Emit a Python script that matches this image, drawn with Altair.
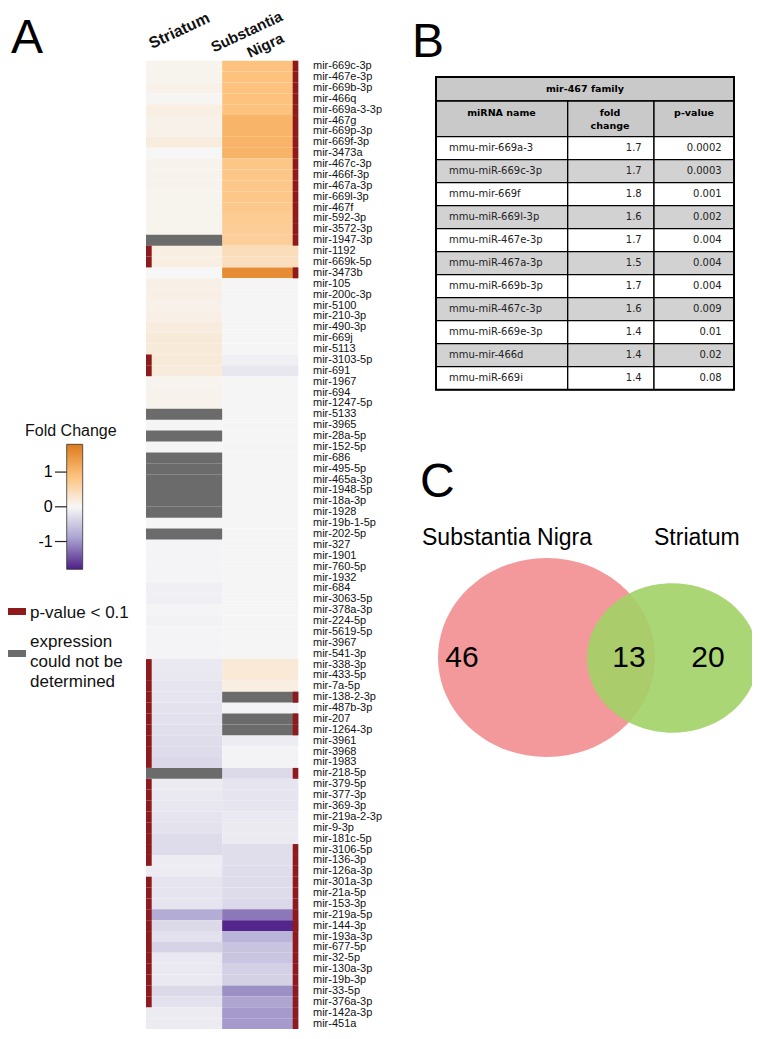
import altair as alt
import pandas as pd

# ---------------- data ----------------
mirnas = ["mir-669c-3p", "mir-467e-3p", "mir-669b-3p", "mir-466q", "mir-669a-3-3p", "mir-467g",
          "mir-669p-3p", "mir-669f-3p", "mir-3473a", "mir-467c-3p", "mir-466f-3p", "mir-467a-3p",
          "mir-669l-3p", "mir-467f", "mir-592-3p", "mir-3572-3p", "mir-1947-3p", "mir-1192",
          "mir-669k-5p", "mir-3473b", "mir-105", "mir-200c-3p", "mir-5100", "mir-210-3p",
          "mir-490-3p", "mir-669j", "mir-5113", "mir-3103-5p", "mir-691", "mir-1967", "mir-694",
          "mir-1247-5p", "mir-5133", "mir-3965", "mir-28a-5p", "mir-152-5p", "mir-686",
          "mir-495-5p", "mir-465a-3p", "mir-1948-5p", "mir-18a-3p", "mir-1928", "mir-19b-1-5p",
          "mir-202-5p", "mir-327", "mir-1901", "mir-760-5p", "mir-1932", "mir-684", "mir-3063-5p",
          "mir-378a-3p", "mir-224-5p", "mir-5619-5p", "mir-3967", "mir-541-3p", "mir-338-3p",
          "mir-433-5p", "mir-7a-5p", "mir-138-2-3p", "mir-487b-3p", "mir-207", "mir-1264-3p",
          "mir-3961", "mir-3968", "mir-1983", "mir-218-5p", "mir-379-5p", "mir-377-3p",
          "mir-369-3p", "mir-219a-2-3p", "mir-9-3p", "mir-181c-5p", "mir-3106-5p", "mir-136-3p",
          "mir-126a-3p", "mir-301a-3p", "mir-21a-5p", "mir-153-3p", "mir-219a-5p", "mir-144-3p",
          "mir-193a-3p", "mir-677-5p", "mir-32-5p", "mir-130a-3p", "mir-19b-3p", "mir-33-5p",
          "mir-376a-3p", "mir-142a-3p", "mir-451a"]

# None = expression could not be determined
striatum_fc = [0.07, 0.07, 0.10, 0.03, 0.15, 0.10, 0.10, 0.18, 0.01, 0.08,
               0.08, 0.08, 0.07, 0.07, 0.07, 0.07, None, 0.15, 0.15, 0.00,
               0.12, 0.12, 0.10, 0.12, 0.18, 0.22, 0.22, 0.22, 0.20, 0.05,
               0.08, 0.08, None, -0.02, None, -0.02, None, None, None, None,
               None, None, -0.02, None, -0.03, -0.03, -0.03, -0.03, -0.08, -0.08,
               -0.04, -0.06, -0.03, -0.03, -0.03, -0.15, -0.17, -0.20, -0.20, -0.22,
               -0.24, -0.26, -0.28, -0.30, -0.33, None, -0.13, -0.15, -0.18, -0.20,
               -0.22, -0.30, -0.30, -0.12, -0.12, -0.20, -0.20, -0.20, -0.80, -0.32,
               -0.24, -0.39, -0.15, -0.15, -0.15, -0.32, -0.24, -0.13, -0.13]

nigra_fc = [0.87, 0.87, 0.87, 0.87, 0.87, 1.05, 1.05, 1.08, 1.08, 0.81,
            0.81, 0.80, 0.80, 0.78, 0.72, 0.70, 0.68, 0.44, 0.42, 1.57,
            -0.02, -0.02, -0.02, -0.02, -0.02, -0.02, -0.02, -0.08, -0.18, -0.02,
            -0.02, -0.02, -0.02, -0.02, -0.02, -0.02, -0.02, -0.02, -0.02, -0.02,
            -0.02, -0.02, -0.02, -0.02, -0.02, -0.02, -0.02, -0.02, -0.02, -0.02,
            -0.02, -0.02, -0.02, -0.02, -0.02, 0.24, 0.24, 0.15, None, -0.03,
            None, None, -0.12, -0.05, -0.05, -0.32, -0.20, -0.20, -0.20, -0.15,
            -0.14, -0.14, -0.27, -0.27, -0.28, -0.30, -0.30, -0.33, -1.20, -1.75,
            -0.72, -0.56, -0.54, -0.43, -0.41, -1.03, -0.87, -0.96, -0.96]

striatum_sig = ["mir-1192", "mir-669k-5p", "mir-3103-5p", "mir-691", "mir-338-3p", "mir-433-5p",
                "mir-7a-5p", "mir-138-2-3p", "mir-487b-3p", "mir-207", "mir-1264-3p", "mir-3961",
                "mir-3968", "mir-1983", "mir-379-5p", "mir-377-3p", "mir-369-3p", "mir-219a-2-3p",
                "mir-9-3p", "mir-181c-5p", "mir-3106-5p", "mir-136-3p", "mir-301a-3p", "mir-21a-5p",
                "mir-153-3p", "mir-219a-5p", "mir-144-3p", "mir-193a-3p", "mir-677-5p", "mir-32-5p",
                "mir-130a-3p", "mir-19b-3p", "mir-33-5p", "mir-376a-3p"]
nigra_sig = mirnas[0:17] + ["mir-3473b", "mir-138-2-3p", "mir-207", "mir-1264-3p", "mir-218-5p"] + mirnas[72:89]

regions = ["Striatum", "Substantia Nigra"]

family_names = ["mmu-mir-669a-3", "mmu-miR-669c-3p", "mmu-mir-669f", "mmu-miR-669l-3p",
                "mmu-miR-467e-3p", "mmu-miR-467a-3p", "mmu-miR-669b-3p", "mmu-miR-467c-3p",
                "mmu-miR-669e-3p", "mmu-mir-466d", "mmu-miR-669i"]
family_fold = [1.7, 1.7, 1.8, 1.6, 1.7, 1.5, 1.7, 1.6, 1.4, 1.4, 1.4]
family_p = ["0.0002", "0.0003", "0.001", "0.002", "0.004", "0.004", "0.004", "0.009", "0.01", "0.02", "0.08"]

venn_sets = ["Substantia Nigra", "Striatum"]
venn_counts = [46, 13, 20]   # SN only, both, Striatum only

fc_ticks = [1, 0, -1]
fc_stops = [-1.8, -0.9, 0, 0.9, 1.8]
fc_colors = ["#4d1f87", "#aba3d0", "#f7f7f7", "#fdc17a", "#dd7a1c"]

# ---------------- layout (chart pixels; page = chart + 8) ----------------
FONT = "Liberation Sans"
TFONT = "DejaVu Sans"
RED = "#8e1a1d"
GRAY = "#6b6b6b"
ROW_TOP = 52.7
ROW_H = 10.88
HX = [138, 214, 290.3]   # heatmap column edges

rows = []
for reg, vals, sig in [(regions[0], striatum_fc, striatum_sig), (regions[1], nigra_fc, nigra_sig)]:
    for m, v in zip(mirnas, vals):
        rows.append({"mirna": m, "region": reg, "fc": v, "sig": int(m in sig)})
heat = pd.DataFrame(rows)

y_heat = alt.Y("mirna:N", axis=None,
               scale=alt.Scale(type="band", domain=mirnas, range=[ROW_TOP, ROW_TOP + ROW_H * len(mirnas)],
                               paddingInner=0, paddingOuter=0))
x_heat = alt.X("region:N", axis=None,
               scale=alt.Scale(type="band", domain=regions, range=[HX[0], HX[2]], paddingInner=0, paddingOuter=0))
color_scale = alt.Scale(domain=fc_stops, range=fc_colors, interpolate="rgb", clamp=True)

cells = alt.Chart(heat).mark_rect().encode(
    x=x_heat, y=y_heat, color=alt.Color("fc:Q", scale=color_scale, legend=None)
).transform_filter("isValid(datum.fc)")
gray_cells = alt.Chart(heat).mark_rect(color=GRAY).encode(x=x_heat, y=y_heat).transform_filter("!isValid(datum.fc)")
sig_s = alt.Chart(heat).mark_rect(color=RED).encode(
    x=alt.value(HX[0]), x2=alt.value(HX[0] + 5.7), y=y_heat
).transform_filter("datum.sig == 1 && datum.region == 'Striatum'")
sig_n = alt.Chart(heat).mark_rect(color=RED).encode(
    x=alt.value(HX[2] - 5.6), x2=alt.value(HX[2]), y=y_heat
).transform_filter("datum.sig == 1 && datum.region == 'Substantia Nigra'")
row_labels = alt.Chart(pd.DataFrame({"mirna": mirnas})).mark_text(
    align="left", baseline="middle", font=FONT, fontSize=11, color="#111111"
).encode(y=y_heat, x=alt.value(305), text="mirna:N")
heat_group = alt.layer(cells, gray_cells, sig_s, sig_n, row_labels)


def label(text, x, y, size, **kw):
    return alt.Chart(pd.DataFrame({"t": [text]})).mark_text(
        font=kw.pop("font", FONT), fontSize=size, **kw
    ).encode(x=alt.value(x), y=alt.value(y), text="t:N")


HDR = dict(fontWeight="bold", angle=335, align="left", baseline="alphabetic", color="#111111")
headers = [
    label(regions[0], 144, 41, 16, **HDR),
    label("Substantia", 206, 44.5, 15, **HDR),
    label("Nigra", 242, 50, 15, **HDR),
]

letters = [
    label("A", 3, 45, 48, align="left", baseline="alphabetic"),
    label("B", 404, 49, 48, align="left", baseline="alphabetic"),
    label("C", 412, 489, 48, align="left", baseline="alphabetic"),
]

# ---- fold change colour bar ----
fc_y = alt.Scale(domain=[fc_stops[0], fc_stops[-1]], range=[561.3, 436.3], nice=False, zero=False)
grad = alt.LinearGradient(
    gradient="linear", x1=0, x2=0, y1=1, y2=0,
    stops=[alt.GradientStop(offset=(s - fc_stops[0]) / (fc_stops[-1] - fc_stops[0]), color=c)
           for s, c in zip(fc_stops, fc_colors)])
cbar = alt.Chart(pd.DataFrame({"lo": [fc_stops[0]], "hi": [fc_stops[-1]]})).mark_rect(
    fill=grad, stroke="#333333", strokeWidth=0.8
).encode(x=alt.value(58.7), x2=alt.value(74.7), y=alt.Y("lo:Q", scale=fc_y, axis=None), y2="hi:Q")
ticks_df = pd.DataFrame({"t": fc_ticks})
cticks = alt.Chart(ticks_df).mark_rule(color="#222222", strokeWidth=1.2).encode(
    x=alt.value(47), x2=alt.value(58.7), y=alt.Y("t:Q", scale=fc_y, axis=None))
clabels = alt.Chart(ticks_df).mark_text(align="right", baseline="middle", font=FONT, fontSize=16).encode(
    x=alt.value(44.7), y=alt.Y("t:Q", scale=fc_y, axis=None), text="t:N")
legend_group = alt.layer(cbar, cticks, clabels)

LEG = dict(align="left", baseline="alphabetic", color="#111111")
legend_texts = [
    label("Fold Change", 17, 428, 16, **LEG),
    label("p-value < 0.1", 22, 610, 17, **LEG),
    label("expression", 22, 639, 17, **LEG),
    label("could not be", 22, 659, 17, **LEG),
    label("determined", 22, 679, 17, **LEG),
]
legend_lines = [
    alt.Chart(pd.DataFrame({"k": ["p"]})).mark_rule(color=RED, strokeWidth=7).encode(
        x=alt.value(0), x2=alt.value(18), y=alt.value(603.5)),
    alt.Chart(pd.DataFrame({"k": ["na"]})).mark_rule(color=GRAY, strokeWidth=7).encode(
        x=alt.value(0), x2=alt.value(18), y=alt.value(645.5)),
]

# ---- table B ----
TX = [428, 559.7, 646, 726]
T_TOP, T_HDR, T_COL, T_BOT = 69, 93, 128.7, 381.7
fam = pd.DataFrame({"name": family_names, "fold": family_fold, "p": family_p,
                    "idx": list(range(len(family_names)))})
y_tab = alt.Y("name:N", axis=None,
              scale=alt.Scale(type="band", domain=family_names, range=[T_COL, T_BOT],
                              paddingInner=0, paddingOuter=0))
one = pd.DataFrame({"k": [0]})
table_layers = [
    alt.Chart(one).mark_rect(fill="#c9c9c9", stroke="black", strokeWidth=1.3).encode(
        x=alt.value(TX[0]), x2=alt.value(TX[3]), y=alt.value(T_TOP), y2=alt.value(T_HDR))
]
for i in range(3):
    table_layers.append(alt.Chart(one).mark_rect(fill="#c9c9c9", stroke="black", strokeWidth=1.3).encode(
        x=alt.value(TX[i]), x2=alt.value(TX[i + 1]), y=alt.value(T_HDR), y2=alt.value(T_COL)))
    table_layers.append(alt.Chart(fam).mark_rect(stroke="black", strokeWidth=1.3).encode(
        x=alt.value(TX[i]), x2=alt.value(TX[i + 1]), y=y_tab,
        fill=alt.condition("datum.idx % 2 == 1", alt.value("#d2d2d2"), alt.value("#ffffff"))))
table_layers.append(alt.Chart(one).mark_rect(fillOpacity=0, stroke="black", strokeWidth=2).encode(
    x=alt.value(TX[0]), x2=alt.value(TX[3]), y=alt.value(T_TOP), y2=alt.value(T_BOT)))
table_layers += [
    alt.Chart(fam).mark_text(align="left", baseline="middle", font=TFONT, fontSize=10, color="#222222").encode(
        x=alt.value(441), y=y_tab, text="name:N"),
    alt.Chart(fam).mark_text(align="right", baseline="middle", font=TFONT, fontSize=10, color="#222222").encode(
        x=alt.value(633.7), y=y_tab, text=alt.Text("fold:Q", format=".1f")),
    alt.Chart(fam).mark_text(align="right", baseline="middle", font=TFONT, fontSize=10, color="#222222").encode(
        x=alt.value(713.7), y=y_tab, text="p:N"),
    label("mir-467 family", 577, 81, 9.5, font=TFONT, fontWeight="bold", align="center", baseline="middle"),
    label("miRNA name", 493.5, 105, 9.5, font=TFONT, fontWeight="bold", align="center", baseline="middle"),
    label("fold", 602, 105, 9.5, font=TFONT, fontWeight="bold", align="center", baseline="middle"),
    label("change", 602, 118, 9.5, font=TFONT, fontWeight="bold", align="center", baseline="middle"),
    label("p-value", 686, 105, 9.5, font=TFONT, fontWeight="bold", align="center", baseline="middle"),
]
table_group = alt.layer(*table_layers)

# ---- Venn C ----
SN_SHAPE = "M -1 0 A 1 0.917 0 1 1 1 0 A 1 0.917 0 1 1 -1 0 Z"
ST_SHAPE = "M -1 0 A 1 0.874 0 1 1 1 0 A 1 0.874 0 1 1 -1 0 Z"
venn = [
    alt.Chart(pd.DataFrame({"set": [venn_sets[0]]})).mark_point(
        shape=SN_SHAPE, filled=True, size=217 ** 2, color="#f4999b", opacity=1, strokeWidth=0
    ).encode(x=alt.value(538.5), y=alt.value(649.5)),
    alt.Chart(pd.DataFrame({"set": [venn_sets[1]]})).mark_point(
        shape=ST_SHAPE, filled=True, size=171 ** 2, color="#a2d166", opacity=0.9, strokeWidth=0
    ).encode(x=alt.value(664.5), y=alt.value(650)),
    label(venn_sets[0], 414, 530, 23, align="left", baseline="middle"),
    label(venn_sets[1], 646, 530, 23, align="left", baseline="middle"),
    label(str(venn_counts[0]), 454, 650, 30, align="center", baseline="middle"),
    label(str(venn_counts[1]), 621, 650, 30, align="center", baseline="middle"),
    label(str(venn_counts[2]), 700, 650, 30, align="center", baseline="middle"),
]

chart = alt.layer(
    heat_group, *headers, *letters, legend_group, *legend_texts, *legend_lines, table_group, *venn
).resolve_scale(x="independent", y="independent", color="independent").properties(
    width=744, height=1023, autosize=alt.AutoSizeParams(type="none"), padding=0
).configure_view(stroke=None)

chart.save("out.html", embed_options={"renderer": "svg", "actions": False})
